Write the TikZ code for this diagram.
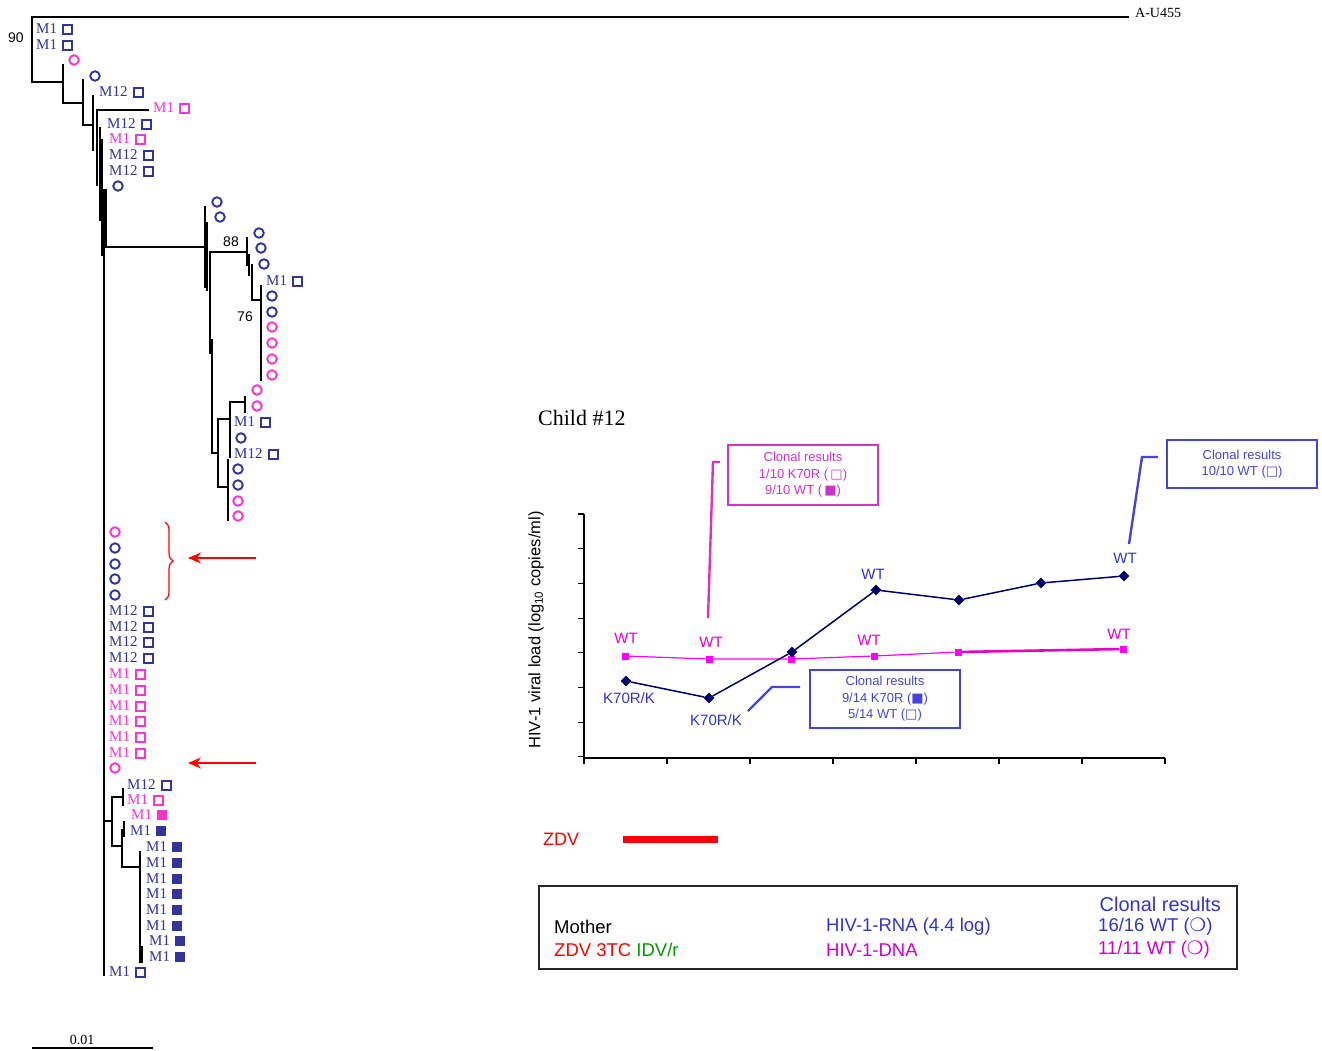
\documentclass[tikz,border=0pt]{standalone}
\usepackage{fontspec}
\setmainfont{Liberation Sans}
\newfontfamily\serifTR{Liberation Serif}
\newfontfamily\dvsym{DejaVu Sans Bold}
\usetikzlibrary{positioning, arrows.meta, shapes.geometric, decorations.pathreplacing}

\definecolor{tblue}{RGB}{51,51,153}
\definecolor{tpink}{RGB}{255,51,204}
\definecolor{navy}{RGB}{0,0,102}
\definecolor{lblue}{RGB}{51,51,204}
\definecolor{lpink}{RGB}{255,0,255}
\definecolor{wtpink}{RGB}{230,0,200}
\definecolor{boxpink}{RGB}{221,51,187}
\definecolor{cpink}{RGB}{204,51,204}
\definecolor{boxblue}{RGB}{68,68,221}
\definecolor{zred}{RGB}{255,0,0}
\definecolor{igreen}{RGB}{0,153,0}
\definecolor{hdpink}{RGB}{204,0,204}

% leaf: name, x, y, label, colour, marker
\newcommand{\mleaf}[6]{%
  \node[tlab,text=#5] (#1) at (#2,#3) {#4};
  \node[#6,#5,right=5pt of #1] (#1s) {};}

\begin{document}
\begin{tikzpicture}[x=1pt, y=-1pt,
    br/.style={line width=1.8pt, line cap=rect},
    tlab/.style={font=\serifTR\fontsize{15}{15}\selectfont, inner sep=0pt, anchor=west},
    sqo/.style={draw, line width=2pt, minimum size=9pt, inner sep=0pt},
    sqf/.style={fill, minimum size=10pt, inner sep=0pt},
    circ/.style={circle, draw, line width=1.9pt, minimum size=9.5pt, inner sep=0pt},
    boot/.style={font=\fontsize{14}{14}\selectfont, inner sep=0pt},
    dmd/.style={diamond, fill=navy, minimum size=11pt, inner sep=0pt},
    psq/.style={fill=lpink, minimum size=7pt, inner sep=0pt},
    lab/.style={font=\fontsize{15}{15}\selectfont, inner sep=0pt},
    clonal/.style={align=center, inner sep=0pt, font=\fontsize{13}{16.5}\selectfont},
    leg/.style={font=\fontsize{18.5}{18.5}\selectfont, inner sep=0pt, anchor=west}]

  \useasboundingbox (0,0) rectangle (1322,1050);

  % Tree branches
  \draw[br] (32,17) -- (1128,17)
            (32,17) -- (32,82) -- (63,82)
            (63,65) -- (63,103) -- (83,103)
            (83,80) -- (83,125) -- (93,125)
            (93,96) -- (93,150)
            (97,110) -- (97,185)  (97,110) -- (148,110)
            (100,128) -- (100,220)
            (102,140) -- (102,255)
            (106,190) -- (106,247) -- (205,247)
            (104,190) -- (104,975);
  % upper clade
  \draw[br] (205,207) -- (205,287)
            (207,223) -- (207,290)
            (210,253) -- (210,353)
            (212,340) -- (212,453) -- (218,453)
            (210,252) -- (247,252)
            (247,238) -- (247,265)
            (249,255) -- (249,275)
            (252,265) -- (252,300) -- (261,300)
            (261,286) -- (261,380)
            (218,419) -- (218,487) -- (228,487)
            (218,419) -- (230,419)
            (230,402) -- (230,457)
            (230,402) -- (245,402)
            (245,397) -- (245,412)
            (228,460) -- (228,520);
  % lower clade
  \draw[br] (104,821) -- (112,821)
            (112,797) -- (112,846) -- (122,846)
            (112,797) -- (123,797)
            (123,789) -- (123,805)
            (122,830) -- (122,867) -- (140,867)
            (124,822) -- (124,836)
            (140,852) -- (140,962)
            (142,947) -- (142,962);

  % Bootstrap values
  \node[boot] (bs90) at (16,38) {90};
  \node[boot] (bs88) at (231,242) {88};
  \node[boot] (bs76) at (245,317) {76};
  \node[tlab, font=\serifTR\fontsize{14}{14}\selectfont] (out) at (1135,13) {A-U455};

  % Circle leaves
  \foreach \x/\y [count=\i] in {95/76, 118/186, 217/202, 220/217, 259/233, 261/248,
      264/264, 272/296, 272/312, 241/438, 238/469, 238/485, 115/548, 115/564,
      115/579, 115/595}
    \node[circ,tblue] (cb\i) at (\x,\y) {};
  \foreach \x/\y [count=\i] in {74/60, 272/327, 272/343, 272/359, 272/375, 257/390,
      257/406, 238/501, 238/516, 115/532, 115/768}
    \node[circ,tpink] (cp\i) at (\x,\y) {};

  % Square leaves, top
  \mleaf{ta}{36}{29}{M1}{tblue}{sqo}
  \mleaf{tb}{36}{45}{M1}{tblue}{sqo}
  \mleaf{te}{99}{92}{M12}{tblue}{sqo}
  \mleaf{tf}{153}{108}{M1}{tpink}{sqo}
  \mleaf{tg}{107}{124}{M12}{tblue}{sqo}
  \mleaf{th}{109}{139}{M1}{tpink}{sqo}
  \mleaf{ti}{109}{155}{M12}{tblue}{sqo}
  \mleaf{tj}{109}{171}{M12}{tblue}{sqo}
  % upper clade
  \mleaf{ua}{266}{281}{M1}{tblue}{sqo}
  \mleaf{ub}{234}{422}{M1}{tblue}{sqo}
  \mleaf{uc}{234}{454}{M12}{tblue}{sqo}
  % trunk
  \foreach \y [count=\i] in {611,627,642,658}
    {\mleaf{mb\i}{109}{\y}{M12}{tblue}{sqo}}
  \foreach \y [count=\i] in {674,690,706,721,737,753}
    {\mleaf{mp\i}{109}{\y}{M1}{tpink}{sqo}}
  % lower clade
  \mleaf{la}{127}{785}{M12}{tblue}{sqo}
  \mleaf{lb}{127}{800}{M1}{tpink}{sqo}
  \mleaf{lc}{131}{815}{M1}{tpink}{sqf}
  \mleaf{ld}{130}{831}{M1}{tblue}{sqf}
  \foreach \y [count=\i] in {847,863,879,894,910,926}
    {\mleaf{lf\i}{146}{\y}{M1}{tblue}{sqf}}
  \foreach \y [count=\i] in {941,957}
    {\mleaf{lg\i}{149}{\y}{M1}{tblue}{sqf}}
  \mleaf{lz}{109}{972}{M1}{tblue}{sqo}

  % Brace and arrows
  \draw[zred, line width=1.2pt, decorate, decoration={brace, amplitude=8pt}]
    (165,522) -- (165,600);
  \coordinate (ar1s) at (256,558);
  \coordinate (ar1e) at (188,558);
  \coordinate (ar2s) at (256,763);
  \coordinate (ar2e) at (188,763);
  \draw[zred, line width=1.3pt, -{Stealth[length=13pt, width=11pt]}] (ar1s) -- (ar1e);
  \draw[zred, line width=1.3pt, -{Stealth[length=13pt, width=11pt]}] (ar2s) -- (ar2e);

  % Scale bar
  \draw[line width=1.3pt] (32,1048) -- (153,1048);
  \node[font=\serifTR\fontsize{14}{14}\selectfont, inner sep=0pt] (scl) at (82,1040) {0.01};

  % Chart
  \node[font=\serifTR\fontsize{22}{22}\selectfont, inner sep=0pt, anchor=west] (title) at (538,418) {Child \#12};
  \draw[line width=1.1pt] (584,514) -- (584,758) -- (1165,758);
  \foreach \k in {0,...,7}
    \draw[line width=1.1pt] (578,{514+34.7*\k}) -- (584,{514+34.7*\k});
  \foreach \k in {0,...,7}
    \draw[line width=1.1pt] ({584+83*\k},758) -- ({584+83*\k},764);
  \node[lab, rotate=90, font=\fontsize{16.5}{16.5}\selectfont] (ylab) at (536,630) {HIV-1 viral load (log\textsubscript{10} copies/ml)};

  % Pink series (DNA)
  \node[psq] (p1) at (625,656) {};
  \node[psq] (p2) at (709,659) {};
  \node[psq] (p3) at (791,659) {};
  \node[psq] (p4) at (874,656) {};
  \node[psq] (p5) at (958,652) {};
  \node[psq] (p6) at (1123,649) {};
  \draw[lpink, line width=1.2pt] (p1) -- (p2) -- (p3) -- (p4) -- (p5);
  \draw[wtpink, line width=2.6pt] (p5) -- (p6);

  % Blue series (RNA)
  \node[dmd] (d1) at (626,681) {};
  \node[dmd] (d2) at (709,698) {};
  \node[dmd] (d3) at (792,652) {};
  \node[dmd] (d4) at (876,590) {};
  \node[dmd] (d5) at (959,600) {};
  \node[dmd] (d6) at (1041,583) {};
  \node[dmd] (d7) at (1124,576) {};
  \draw[navy, line width=1.5pt] (d1) -- (d2) -- (d3) -- (d4) -- (d5) -- (d6) -- (d7);

  % Point labels
  \node[lab, text=wtpink] (wp1) at (626,638) {WT};
  \node[lab, text=wtpink] (wp2) at (711,642) {WT};
  \node[lab, text=wtpink] (wp4) at (869,640) {WT};
  \node[lab, text=wtpink] (wp6) at (1119,634) {WT};
  \node[lab, text=lblue] (wb4) at (873,574) {WT};
  \node[lab, text=lblue] (wb7) at (1125,558) {WT};
  \node[lab, text=lblue] (kb1) at (629,698) {K70R/K};
  \node[lab, text=lblue] (kb2) at (716,720) {K70R/K};

  % Clonal result callouts
  \node[clonal, draw=boxpink, line width=2.2pt, text=cpink, minimum width=150pt, minimum height=60pt]
    (clon1) at (803,475) {Clonal results\\1/10 K70R (\,{\dvsym □})\\9/10 WT (\,{\dvsym ■})};
  \node[clonal, draw=boxblue, line width=2pt, text=boxblue, minimum width=150pt, minimum height=58pt]
    (clon2) at (885,699) {Clonal results\\9/14 K70R ({\dvsym ■})\\5/14 WT ({\dvsym □})};
  \node[clonal, draw=boxblue, line width=2pt, text=boxblue, minimum width=150pt, minimum height=48pt]
    (clon3) at (1242,464) {Clonal results\\10/10 WT ({\dvsym □})};
  \coordinate (k1a) at (708,618);
  \coordinate (k1b) at (713,462);
  \coordinate (k1c) at (720,462);
  \coordinate (k2a) at (748,711);
  \coordinate (k2b) at (772,687);
  \coordinate (k2c) at (800,687);
  \coordinate (k3a) at (1129,544);
  \coordinate (k3b) at (1142,457);
  \coordinate (k3c) at (1158,457);
  \draw[boxpink, line width=2.4pt] (k1a) -- (k1b) -- (k1c);
  \draw[boxblue, line width=2.4pt] (k2a) -- (k2b) -- (k2c);
  \draw[boxblue, line width=2.4pt] (k3a) -- (k3b) -- (k3c);

  % Treatment bar
  \node[font=\fontsize{18}{18}\selectfont, text=zred, inner sep=0pt] (zdv) at (561,839) {ZDV};
  \draw[zred, line width=7pt] (623,839) -- (718,839);

  % Legend box
  \node[draw=black!85, line width=1.2pt, minimum width=698pt, minimum height=83pt, inner sep=0pt]
    (legend) at (888,927.5) {};
  \node[leg] (moth) at (554,927) {Mother};
  \node[leg] (drugs) at (554,950) {\textcolor{zred}{ZDV 3TC} \textcolor{igreen}{IDV/r}};
  \node[leg, text=lblue] (rna) at (826,927) {HIV-1-RNA (4.4 log)};
  \node[leg, text=hdpink] (dna) at (826,950) {HIV-1-DNA};
  \node[leg, anchor=east, text=lblue, font=\fontsize{20}{20}\selectfont] (cres) at (1221,904) {Clonal results};
  \node[leg, text=lblue] (crna) at (1098,927) {16/16 WT ({\dvsym ❍})};
  \node[leg, text=hdpink] (cdna) at (1098,950) {11/11 WT ({\dvsym ❍})};
\end{tikzpicture}
\end{document}
